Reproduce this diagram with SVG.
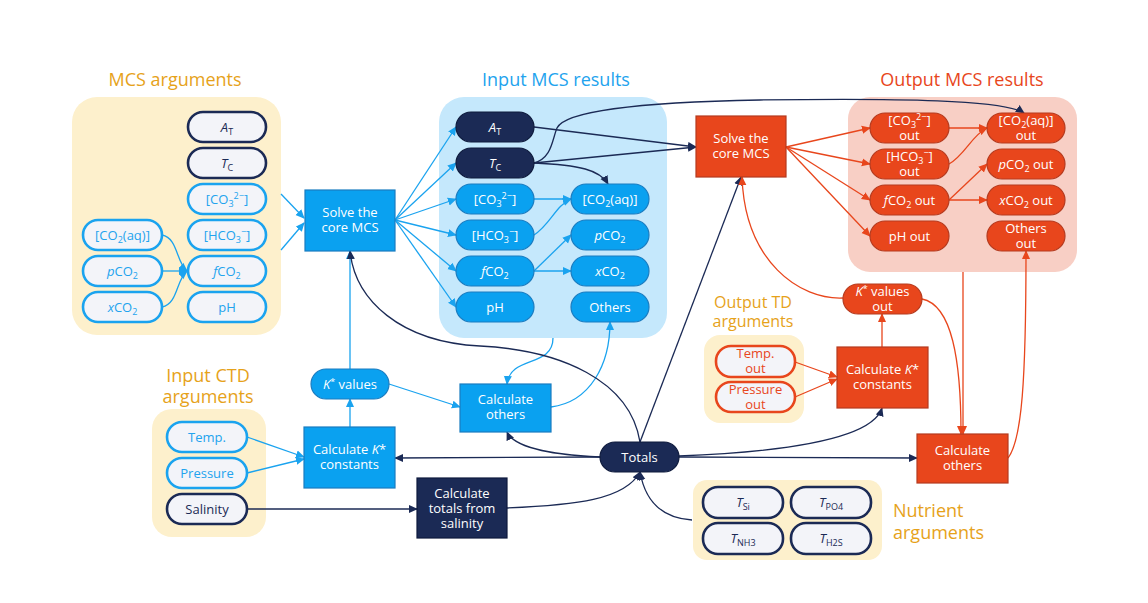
<svg xmlns="http://www.w3.org/2000/svg" width="1148" height="603" viewBox="0 0 1148 603">
<defs>
<style>
text{font-family:"Open Sans","Liberation Sans",sans-serif;font-size:13px;text-anchor:middle}
.title{font-size:18px}
.gold{fill:#e6a21a}
.tb{fill:#22a3ee}
.td{fill:#1b2a55}
.tw{fill:#ffffff}
.to{fill:#e8461c}
.ln{fill:#f3f4f9;stroke-width:2.6}
.sbl{stroke:#1aa3ef}
.sdk{stroke:#1b2a55}
.sor{stroke:#e8461c}
.nb{fill:#0aa1f0;stroke:#1a7cc0;stroke-width:1.2}
.nd{fill:#1b2a55;stroke:#0e1a3c;stroke-width:1.2}
.no{fill:#e8461c;stroke:#b53a1e;stroke-width:1.2}
.cb{fill:none;stroke:#1aa3ef;stroke-width:1.3}
.cd{fill:none;stroke:#1b2a55;stroke-width:1.3}
.co{fill:none;stroke:#e8461c;stroke-width:1.3}
.i{font-style:italic}
.s{font-size:9px}
</style>
<marker id="ab" viewBox="0 0 10 10" refX="9" refY="5" markerWidth="9" markerHeight="9" orient="auto" markerUnits="userSpaceOnUse"><path d="M0,0.5 L10,5 L0,9.5 z" fill="#1aa3ef"/></marker>
<marker id="ad" viewBox="0 0 10 10" refX="9" refY="5" markerWidth="9" markerHeight="9" orient="auto" markerUnits="userSpaceOnUse"><path d="M0,0.5 L10,5 L0,9.5 z" fill="#1b2a55"/></marker>
<marker id="ao" viewBox="0 0 10 10" refX="9" refY="5" markerWidth="9" markerHeight="9" orient="auto" markerUnits="userSpaceOnUse"><path d="M0,0.5 L10,5 L0,9.5 z" fill="#e8461c"/></marker>
</defs>
<rect width="1148" height="603" fill="#ffffff"/>

<!-- panels -->
<g id="panels">
<rect x="72" y="97" width="209" height="238" rx="25" fill="#fdf0cc"/>
<text x="175" y="86" class="title gold">MCS arguments</text>
<rect x="439" y="97" width="228" height="241" rx="25" fill="#c5e8fc"/>
<text x="556" y="86" class="title tb">Input MCS results</text>
<rect x="848" y="97" width="229" height="175" rx="22" fill="#f8cfc5"/>
<text x="962" y="86" class="title to">Output MCS results</text>
<rect x="152" y="409" width="114" height="128" rx="20" fill="#fdf0cc"/>
<text x="208" y="382" class="title gold">Input CTD<tspan x="208" dy="21">arguments</tspan></text>
<rect x="704" y="335" width="100" height="88" rx="16" fill="#fdf0cc"/>
<text x="753" y="308" class="gold" style="font-size:16px">Output TD<tspan x="753" dy="19">arguments</tspan></text>
<rect x="693" y="480" width="189" height="80" rx="14" fill="#fdf0cc"/>
<text x="893" y="517" class="title gold" style="text-anchor:start">Nutrient<tspan x="893" dy="22">arguments</tspan></text>
</g>

<!-- connectors -->
<g id="connectors">
<!-- blue -->
<path class="cb" d="M162,235 C178,238 176,262 187,271" marker-end="url(#ab)"/>
<path class="cb" d="M162,271 L187,271" marker-end="url(#ab)"/>
<path class="cb" d="M162,307 C178,304 176,280 187,271" marker-end="url(#ab)"/>
<path class="cb" d="M281,194 L304,218" marker-end="url(#ab)"/>
<path class="cb" d="M281,250 L304,223" marker-end="url(#ab)"/>
<path class="cb" d="M395,220 L456,127" marker-end="url(#ab)"/>
<path class="cb" d="M395,220 L456,163" marker-end="url(#ab)"/>
<path class="cb" d="M395,220 L456,199" marker-end="url(#ab)"/>
<path class="cb" d="M395,220 L456,235" marker-end="url(#ab)"/>
<path class="cb" d="M395,220 L456,271" marker-end="url(#ab)"/>
<path class="cb" d="M395,220 L456,307" marker-end="url(#ab)"/>
<path class="cb" d="M534,199 L571,199" marker-end="url(#ab)"/>
<path class="cb" d="M534,235 C550,225 556,205 571,199" marker-end="url(#ab)"/>
<path class="cb" d="M534,271 L571,235" marker-end="url(#ab)"/>
<path class="cb" d="M534,271 L571,271" marker-end="url(#ab)"/>
<path class="cb" d="M553,338 C553,368 510,355 507,384" marker-end="url(#ab)"/>
<path class="cb" d="M551,407 C590,402 610,365 610,322" marker-end="url(#ab)"/>
<path class="cb" d="M389,384 L460,407" marker-end="url(#ab)"/>
<path class="cb" d="M350,427 L350,399" marker-end="url(#ab)"/>
<path class="cb" d="M350,369 L350,251" marker-end="url(#ab)"/>
<path class="cb" d="M247,437 L304,457" marker-end="url(#ab)"/>
<path class="cb" d="M247,473 L304,459" marker-end="url(#ab)"/>
<!-- navy -->
<path class="cd" d="M247,509 L417,509" marker-end="url(#ad)"/>
<path class="cd" d="M507,508 C575,505 625,500 640,472" marker-end="url(#ad)"/>
<path class="cd" d="M692,520 C660,518 645,500 640,472" marker-end="url(#ad)"/>
<path class="cd" d="M600,457 L395,458" marker-end="url(#ad)"/>
<path class="cd" d="M600,457 C560,455 515,450 507,432" marker-end="url(#ad)"/>
<path class="cd" d="M640,442 C630,380 560,350 480,346 C400,342 355,300 350,251" marker-end="url(#ad)"/>
<path class="cd" d="M640,442 L741,177" marker-end="url(#ad)"/>
<path class="cd" d="M679,457 L917,458" marker-end="url(#ad)"/>
<path class="cd" d="M679,456 C780,452 872,440 882,408" marker-end="url(#ad)"/>
<path class="cd" d="M534,127 L696,147" marker-end="url(#ad)"/>
<path class="cd" d="M534,163 L696,147" marker-end="url(#ad)"/>
<path class="cd" d="M534,163 C580,165 600,170 608,184" marker-end="url(#ad)"/>
<path class="cd" d="M534,163 C552,158 552,140 557,128 C566,110 650,102 760,100 C900,98 1005,100 1024,113" marker-end="url(#ad)"/>
<!-- orange -->
<path class="co" d="M786,147 L870,128" marker-end="url(#ao)"/>
<path class="co" d="M786,147 L870,164" marker-end="url(#ao)"/>
<path class="co" d="M786,147 L870,200" marker-end="url(#ao)"/>
<path class="co" d="M786,147 L870,236" marker-end="url(#ao)"/>
<path class="co" d="M949,128 L987,128" marker-end="url(#ao)"/>
<path class="co" d="M949,164 C965,155 972,135 987,128" marker-end="url(#ao)"/>
<path class="co" d="M949,200 L987,164" marker-end="url(#ao)"/>
<path class="co" d="M949,200 L987,200" marker-end="url(#ao)"/>
<path class="co" d="M795,362 L837,377" marker-end="url(#ao)"/>
<path class="co" d="M795,397 L837,379" marker-end="url(#ao)"/>
<path class="co" d="M882,347 L882,314" marker-end="url(#ao)"/>
<path class="co" d="M843,298 C800,300 745,262 742,177" marker-end="url(#ao)"/>
<path class="co" d="M922,299 C952,305 961,360 961,434" marker-end="url(#ao)"/>
<path class="co" d="M963,272 L963,434" marker-end="url(#ao)"/>
<path class="co" d="M1008,458 C1022,440 1026,380 1026,251" marker-end="url(#ao)"/>
</g>

<!-- MCS arguments nodes -->
<g id="arg_AT"><rect x="188" y="112" width="78" height="30" rx="15" class="ln sdk"/><text x="227" y="131.5" class="td"><tspan class="i">A</tspan><tspan class="s" dy="3">T</tspan></text></g>
<g id="arg_TC"><rect x="188" y="148" width="78" height="30" rx="15" class="ln sdk"/><text x="227" y="167.5" class="td"><tspan class="i">T</tspan><tspan class="s" dy="3">C</tspan></text></g>
<g id="arg_CO3"><rect x="188" y="184" width="78" height="30" rx="15" class="ln sbl"/><text x="227" y="203.5" class="tb">[CO<tspan class="s" dy="3">3</tspan><tspan class="s" dy="-8">2−</tspan><tspan dy="5">]</tspan></text></g>
<g id="arg_HCO3"><rect x="188" y="220" width="78" height="30" rx="15" class="ln sbl"/><text x="227" y="239.5" class="tb">[HCO<tspan class="s" dy="3">3</tspan><tspan class="s" dy="-8">−</tspan><tspan dy="5">]</tspan></text></g>
<g id="arg_fCO2"><rect x="188" y="256" width="78" height="30" rx="15" class="ln sbl"/><text x="227" y="275.5" class="tb"><tspan class="i">f</tspan>CO<tspan class="s" dy="3">2</tspan></text></g>
<g id="arg_pH"><rect x="188" y="292" width="78" height="30" rx="15" class="ln sbl"/><text x="227" y="311.5" class="tb">pH</text></g>
<g id="arg_CO2aq"><rect x="83" y="220" width="79" height="30" rx="15" class="ln sbl"/><text x="122.5" y="239.5" class="tb">[CO<tspan class="s" dy="3">2</tspan><tspan dy="-3">(aq)]</tspan></text></g>
<g id="arg_pCO2"><rect x="83" y="256" width="79" height="30" rx="15" class="ln sbl"/><text x="122.5" y="275.5" class="tb"><tspan class="i">p</tspan>CO<tspan class="s" dy="3">2</tspan></text></g>
<g id="arg_xCO2"><rect x="83" y="292" width="79" height="30" rx="15" class="ln sbl"/><text x="122.5" y="311.5" class="tb"><tspan class="i">x</tspan>CO<tspan class="s" dy="3">2</tspan></text></g>

<!-- Input core -->
<g id="solve_in"><rect x="305" y="190" width="90" height="61" class="nb"/><text x="350" y="217" class="tw">Solve the<tspan x="350" dy="15">core MCS</tspan></text></g>

<!-- Input MCS results -->
<g id="in_AT"><rect x="456" y="112" width="78" height="30" rx="15" class="nd"/><text x="495" y="131.5" class="tw"><tspan class="i">A</tspan><tspan class="s" dy="3">T</tspan></text></g>
<g id="in_TC"><rect x="456" y="148" width="78" height="30" rx="15" class="nd"/><text x="495" y="167.5" class="tw"><tspan class="i">T</tspan><tspan class="s" dy="3">C</tspan></text></g>
<g id="in_CO3"><rect x="456" y="184" width="78" height="30" rx="15" class="nb"/><text x="495" y="203.5" class="tw">[CO<tspan class="s" dy="3">3</tspan><tspan class="s" dy="-8">2−</tspan><tspan dy="5">]</tspan></text></g>
<g id="in_HCO3"><rect x="456" y="220" width="78" height="30" rx="15" class="nb"/><text x="495" y="239.5" class="tw">[HCO<tspan class="s" dy="3">3</tspan><tspan class="s" dy="-8">−</tspan><tspan dy="5">]</tspan></text></g>
<g id="in_fCO2"><rect x="456" y="256" width="78" height="30" rx="15" class="nb"/><text x="495" y="275.5" class="tw"><tspan class="i">f</tspan>CO<tspan class="s" dy="3">2</tspan></text></g>
<g id="in_pH"><rect x="456" y="292" width="78" height="30" rx="15" class="nb"/><text x="495" y="311.5" class="tw">pH</text></g>
<g id="in_CO2aq"><rect x="571" y="184" width="78" height="30" rx="15" class="nb"/><text x="610" y="203.5" class="tw">[CO<tspan class="s" dy="3">2</tspan><tspan dy="-3">(aq)]</tspan></text></g>
<g id="in_pCO2"><rect x="571" y="220" width="78" height="30" rx="15" class="nb"/><text x="610" y="239.5" class="tw"><tspan class="i">p</tspan>CO<tspan class="s" dy="3">2</tspan></text></g>
<g id="in_xCO2"><rect x="571" y="256" width="78" height="30" rx="15" class="nb"/><text x="610" y="275.5" class="tw"><tspan class="i">x</tspan>CO<tspan class="s" dy="3">2</tspan></text></g>
<g id="in_others"><rect x="571" y="292" width="78" height="30" rx="15" class="nb"/><text x="610" y="311.5" class="tw">Others</text></g>

<!-- Output core -->
<g id="solve_out"><rect x="696" y="116" width="90" height="61" class="no"/><text x="741" y="143" class="tw">Solve the<tspan x="741" dy="15">core MCS</tspan></text></g>

<!-- Output MCS results -->
<g id="out_CO3"><rect x="870" y="113" width="79" height="30" rx="15" class="no"/><text x="909.5" y="125" class="tw">[CO<tspan class="s" dy="3">3</tspan><tspan class="s" dy="-8">2−</tspan><tspan dy="5">]</tspan><tspan x="909.5" dy="15">out</tspan></text></g>
<g id="out_HCO3"><rect x="870" y="149" width="79" height="30" rx="15" class="no"/><text x="909.5" y="161" class="tw">[HCO<tspan class="s" dy="3">3</tspan><tspan class="s" dy="-8">−</tspan><tspan dy="5">]</tspan><tspan x="909.5" dy="15">out</tspan></text></g>
<g id="out_fCO2"><rect x="870" y="185" width="79" height="30" rx="15" class="no"/><text x="909.5" y="204.5" class="tw"><tspan class="i">f</tspan>CO<tspan class="s" dy="3">2</tspan><tspan dy="-3"> out</tspan></text></g>
<g id="out_pH"><rect x="870" y="221" width="79" height="30" rx="15" class="no"/><text x="909.5" y="240.5" class="tw">pH out</text></g>
<g id="out_CO2aq"><rect x="987" y="113" width="78" height="30" rx="15" class="no"/><text x="1026" y="125" class="tw">[CO<tspan class="s" dy="3">2</tspan><tspan dy="-3">(aq)]</tspan><tspan x="1026" dy="15">out</tspan></text></g>
<g id="out_pCO2"><rect x="987" y="149" width="78" height="30" rx="15" class="no"/><text x="1026" y="168.5" class="tw"><tspan class="i">p</tspan>CO<tspan class="s" dy="3">2</tspan><tspan dy="-3"> out</tspan></text></g>
<g id="out_xCO2"><rect x="987" y="185" width="78" height="30" rx="15" class="no"/><text x="1026" y="204.5" class="tw"><tspan class="i">x</tspan>CO<tspan class="s" dy="3">2</tspan><tspan dy="-3"> out</tspan></text></g>
<g id="out_others"><rect x="987" y="221" width="78" height="30" rx="15" class="no"/><text x="1026" y="233" class="tw">Others<tspan x="1026" dy="15">out</tspan></text></g>

<!-- Input CTD -->
<g id="ctd_temp"><rect x="167" y="422" width="80" height="30" rx="15" class="ln sbl"/><text x="207" y="441.5" class="tb">Temp.</text></g>
<g id="ctd_pressure"><rect x="167" y="458" width="80" height="30" rx="15" class="ln sbl"/><text x="207" y="477.5" class="tb">Pressure</text></g>
<g id="ctd_salinity"><rect x="167" y="494" width="80" height="30" rx="15" class="ln sdk"/><text x="207" y="513.5" class="td">Salinity</text></g>

<g id="calcK_in"><rect x="304" y="427" width="91" height="61" class="nb"/><text x="349.5" y="454" class="tw">Calculate <tspan class="i">K</tspan>*<tspan x="349.5" dy="15">constants</tspan></text></g>
<g id="Kvals_in"><rect x="311" y="369" width="78" height="30" rx="15" class="nb"/><text x="350" y="388.5" class="tw"><tspan class="i">K</tspan><tspan class="s" dy="-4">*</tspan><tspan dy="4"> values</tspan></text></g>
<g id="calc_totals"><rect x="417" y="478" width="90" height="60" class="nd"/><text x="462" y="498" class="tw">Calculate<tspan x="462" dy="15">totals from</tspan><tspan x="462" dy="15">salinity</tspan></text></g>
<g id="calc_others_in"><rect x="460" y="384" width="91" height="48" class="nb"/><text x="505.5" y="404" class="tw">Calculate<tspan x="505.5" dy="15">others</tspan></text></g>
<g id="totals"><rect x="600" y="442" width="79" height="30" rx="15" class="nd"/><text x="639.5" y="461.5" class="tw">Totals</text></g>

<!-- Output TD -->
<g id="td_temp"><rect x="716" y="346" width="79" height="31" rx="15" class="ln sor"/><text x="755.5" y="358" class="to">Temp.<tspan x="755.5" dy="15">out</tspan></text></g>
<g id="td_pressure"><rect x="716" y="382" width="79" height="30" rx="15" class="ln sor"/><text x="755.5" y="394" class="to">Pressure<tspan x="755.5" dy="15">out</tspan></text></g>
<g id="calcK_out"><rect x="837" y="347" width="91" height="61" class="no"/><text x="882.5" y="374" class="tw">Calculate <tspan class="i">K</tspan>*<tspan x="882.5" dy="15">constants</tspan></text></g>
<g id="Kvals_out"><rect x="843" y="284" width="79" height="30" rx="15" class="no"/><text x="882.5" y="296" class="tw"><tspan class="i">K</tspan><tspan class="s" dy="-4">*</tspan><tspan dy="4"> values</tspan><tspan x="882.5" dy="15">out</tspan></text></g>
<g id="calc_others_out"><rect x="917" y="434" width="91" height="49" class="no"/><text x="962.5" y="455" class="tw">Calculate<tspan x="962.5" dy="15">others</tspan></text></g>

<!-- Nutrients -->
<g id="nut_Si"><rect x="703" y="487" width="80" height="31" rx="15" class="ln sdk"/><text x="743" y="507" class="td"><tspan class="i">T</tspan><tspan class="s" dy="3">Si</tspan></text></g>
<g id="nut_PO4"><rect x="791" y="487" width="80" height="31" rx="15" class="ln sdk"/><text x="831" y="507" class="td"><tspan class="i">T</tspan><tspan class="s" dy="3">PO4</tspan></text></g>
<g id="nut_NH3"><rect x="703" y="523" width="80" height="31" rx="15" class="ln sdk"/><text x="743" y="543" class="td"><tspan class="i">T</tspan><tspan class="s" dy="3">NH3</tspan></text></g>
<g id="nut_H2S"><rect x="791" y="523" width="80" height="31" rx="15" class="ln sdk"/><text x="831" y="543" class="td"><tspan class="i">T</tspan><tspan class="s" dy="3">H2S</tspan></text></g>
</svg>
